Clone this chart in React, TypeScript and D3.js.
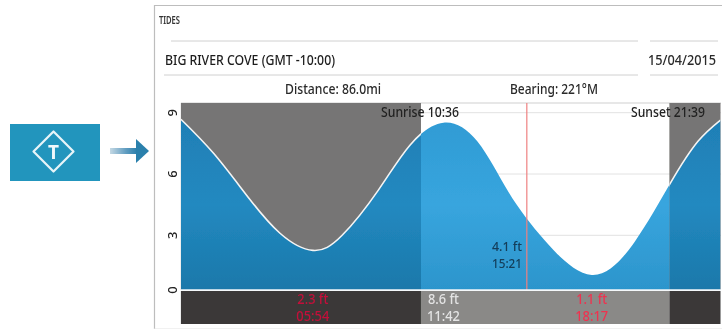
import React from "react";
import * as d3 from "d3";

// ---- data ----
const tideHours = [0.04, 1.5, 3, 4.44, 5.9, 7.2, 8.8, 10.2, 11.7, 13.2, 14.6, 16.2, 18.28, 20.2, 21.8, 23, 24];
const tideFeet = [8.68, 7.0, 4.9, 3.1, 2.26, 3.0, 5.2, 7.4, 8.51, 7.6, 5.1, 2.75, 1.06, 2.7, 5.6, 7.6, 8.64];
const yTicks = [0, 3, 6, 9];
const sunriseHour = 10.7;
const sunsetHour = 21.73;
const cursorHour = 15.4;
const extremeHours = [5.9, 11.7, 18.28];
const extremeHeights = ["2.3 ft", "8.6 ft", "1.1 ft"];
const extremeTimes = ["05:54", "11:42", "18:17"];
const extremeColors = ["#c4103a", "#e4e4e4", "#ee3350"];

const FONT = "'Noto Sans', 'Open Sans', sans-serif";

const x = d3.scaleLinear().domain([0, 24]).range([180, 720.5]);
const y = d3.scaleLinear().domain([0, 9]).range([296.6, 112.7]);

const points: [number, number][] = tideHours.map((h, i) => [h, tideFeet[i]]);
const PLOT_TOP = 103;
const PLOT_BOTTOM = 290;
const STRIP_TOP = 291;
const STRIP_BOTTOM = 324;

const tideLine = d3.line<[number, number]>().x((d) => x(d[0])).y((d) => y(d[1])).curve(d3.curveNatural);
const tideArea = d3.area<[number, number]>().x((d) => x(d[0])).y0(PLOT_BOTTOM).y1((d) => y(d[1])).curve(d3.curveNatural);

const night: [number, number][] = [[tideHours[0], sunriseHour], [sunsetHour, 24]];

function T({ x: tx, y: ty, w, size = 14, fill = "#222", anchor = "start", weight = 500, children }: any) {
  return (
    <text x={tx} y={ty} fontSize={size} fontWeight={weight} fontFamily={FONT} fill={fill} textAnchor={anchor} textLength={w} lengthAdjust="spacingAndGlyphs">
      {children}
    </text>
  );
}

export default function App() {
  const sx = x(sunriseHour);
  const ss = x(sunsetHour);
  const cx = x(cursorHour);
  return (
    <svg width={724} height={331} style={{ position: "fixed", left: 0, top: 0, background: "#fff" }}>
      <defs>
        <filter id="soft" x="0" y="0" width="100%" height="100%">
          <feGaussianBlur stdDeviation="0.45" />
        </filter>
        <linearGradient id="dayBlue" x1="0" y1="0" x2="0" y2="1">
          <stop offset="0" stopColor="#2f9bd4" />
          <stop offset="0.5" stopColor="#38a5de" />
          <stop offset="1" stopColor="#2c95cc" />
        </linearGradient>
        <linearGradient id="nightBlue" x1="0" y1="0" x2="0" y2="1">
          <stop offset="0" stopColor="#1f7fb6" />
          <stop offset="0.5" stopColor="#2289c0" />
          <stop offset="1" stopColor="#1b78aa" />
        </linearGradient>
        <linearGradient id="arrowFade" x1="0" y1="0" x2="1" y2="0">
          <stop offset="0" stopColor="#c4d8e4" />
          <stop offset="0.6" stopColor="#5f9cc0" />
          <stop offset="1" stopColor="#2b80ac" />
        </linearGradient>
        <clipPath id="dayClip">
          <rect x={sx} y={PLOT_TOP} width={ss - sx} height={PLOT_BOTTOM - PLOT_TOP} />
        </clipPath>
        <clipPath id="nightClip">
          {night.map(([a, b]) => (
            <rect key={a} x={x(a)} y={PLOT_TOP} width={x(b) - x(a)} height={PLOT_BOTTOM - PLOT_TOP} />
          ))}
        </clipPath>
      </defs>

      <g filter="url(#soft)">
        {/* icon */}
        <rect x={10} y={124} width={90} height={57} fill="#2495bd" />
        <path d="M53.5 131.5 L73.5 151.5 L53.5 171.5 L33.5 151.5 Z" fill="none" stroke="#e8f5f9" strokeWidth={2.2} strokeLinejoin="round" />
        <text x={53.5} y={158.5} fontSize={19} fontWeight={700} fontFamily={FONT} fill="#f0f8fb" textAnchor="middle">T</text>
        <rect x={110} y={148} width={27} height={6} fill="url(#arrowFade)" />
        <path d="M136 139 L149 151 L136 163 Z" fill="#2b80ac" />

        {/* panel */}
        <path d="M154.5 329 V5.5 H722" fill="none" stroke="#bdbdbd" strokeWidth={1.2} />
        <path d="M154 329 H722" fill="none" stroke="#e2e2e2" />
        <T x={159} y={24} w={21} size={11} weight={600} fill="#333">TIDES</T>
        <path d="M171 41 H638 M164 75 H638 M650 41 H718 M650 75 H718" stroke="#d0d0d0" />
        <T x={165} y={65} w={170} size={15} fill="#1e1e1e">BIG RIVER COVE  (GMT -10:00)</T>
        <T x={648} y={65} w={68} size={13.5} fill="#2a2a2a">15/04/2015</T>
        <T x={285} y={94} w={96} size={14} fill="#2a2a2a">Distance: 86.0mi</T>
        <T x={510} y={94} w={88} size={14} fill="#2a2a2a">Bearing: 221°M</T>

        {/* sky and grid */}
        <line x1={181} x2={721} y1={PLOT_TOP} y2={PLOT_TOP} stroke="#cfcfcf" />
        {yTicks.slice(1).map((t) => (
          <line key={t} x1={181} x2={721} y1={y(t)} y2={y(t)} stroke="#e2e2e2" />
        ))}
        {night.map(([a, b]) => (
          <rect key={a} x={x(a)} y={PLOT_TOP} width={x(b) - x(a)} height={PLOT_BOTTOM - PLOT_TOP} fill="#767574" />
        ))}

        {/* tide */}
        <path d={tideArea(points) ?? ""} fill="url(#dayBlue)" clipPath="url(#dayClip)" />
        <path d={tideArea(points) ?? ""} fill="url(#nightBlue)" clipPath="url(#nightClip)" />
        <path d={tideLine(points) ?? ""} fill="none" stroke="#f4f4f4" strokeWidth={1.6} clipPath="url(#nightClip)" />

        {/* cursor */}
        <line x1={cx} x2={cx} y1={PLOT_TOP} y2={PLOT_BOTTOM} stroke="#ef8080" strokeWidth={1.2} />
        <T x={522} y={251} w={30} size={13} anchor="end" fill="#123c58">4.1 ft</T>
        <T x={522} y={268} w={30} size={13} anchor="end" fill="#123c58">15:21</T>

        {/* sun labels */}
        <T x={381} y={117} w={78} size={14} fill="#222">Sunrise 10:36</T>
        <T x={631} y={117} w={74} size={14} fill="#222">Sunset 21:39</T>

        {/* y ticks */}
        {yTicks.map((t) => {
          const py = Math.min(y(t), 290);
          return (
            <text key={t} transform={`translate(176.5,${py}) rotate(-90)`} fontSize={13} fontWeight={500} fontFamily={FONT} fill="#222" textAnchor="middle">
              {t}
            </text>
          );
        })}

        {/* base strip */}
        <rect x={x(tideHours[0])} y={STRIP_TOP} width={sx - x(tideHours[0])} height={STRIP_BOTTOM - STRIP_TOP} fill="#3a3937" />
        <rect x={sx} y={STRIP_TOP} width={ss - sx} height={STRIP_BOTTOM - STRIP_TOP} fill="#8a8987" />
        <rect x={ss} y={STRIP_TOP} width={x(24) - ss} height={STRIP_BOTTOM - STRIP_TOP} fill="#3a3937" />
        <line x1={181} x2={721} y1={290} y2={290} stroke="#f2f6f8" strokeWidth={1.6} />
        {extremeHours.map((h, i) => (
          <g key={h}>
            <T x={x(h)} y={304} w={31} size={13.5} anchor="middle" fill={extremeColors[i]}>{extremeHeights[i]}</T>
            <T x={x(h)} y={321} w={33} size={13.5} anchor="middle" fill={extremeColors[i]}>{extremeTimes[i]}</T>
          </g>
        ))}
      </g>
    </svg>
  );
}
